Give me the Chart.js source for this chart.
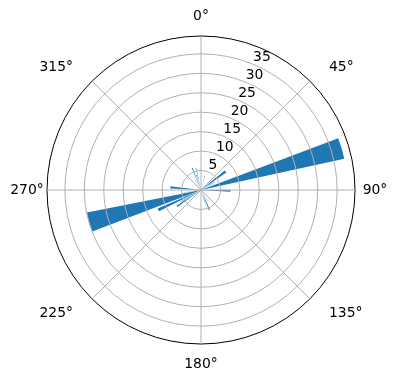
<!DOCTYPE html>
<html>
<head>
<meta charset="utf-8">
<script src="https://cdn.jsdelivr.net/npm/chart.js@4"></script>
<style>
  body { margin: 0; background: #fff; }
</style>
</head>
<body>
<canvas id="chart" width="396" height="380"></canvas>
<script>
const thetaLabels = ['0°', '45°', '90°', '135°', '180°', '225°', '270°', '315°'];
const radialTicks = [5, 10, 15, 20, 25, 30, 35];
const rMax = 39.6;

// bar centres (deg, clockwise from north), widths (deg) and heights
const barAngles = [15, 53, 59, 64, 73.5, 91.7, 150, 157, 163, 236, 240, 245, 254, 262, 275, 330, 338, 343, 347];
const barWidths = [1.5, 5, 1.2, 1.2, 8.4, 3.3, 1.2, 3, 1.2, 3, 1.2, 4, 9.7, 1.2, 4, 1.2, 2, 1.2, 1.5];
const barValues = [3.8, 7.9, 4.0, 3.5, 37.7, 7.6, 3.2, 5.6, 4.0, 7.5, 6.0, 12.1, 29.9, 4.5, 7.9, 3.0, 6.2, 4.0, 5.8];

// polarArea arcs are laid end to end, so put an empty arc in each gap
const segValues = [], segAngles = [];
let cursor = 0;
barAngles.forEach((a, i) => {
  const start = a - barWidths[i] / 2;
  segValues.push(0);
  segAngles.push(start - cursor);
  segValues.push(barValues[i]);
  segAngles.push(barWidths[i]);
  cursor = start + barWidths[i];
});

const polarText = {
  id: 'polarText',
  afterDraw(chart) {
    const r = chart.scales.r;
    const ctx = chart.ctx;
    ctx.save();
    ctx.fillStyle = '#000';
    ctx.font = '13.9px "DejaVu Sans"';
    ctx.textAlign = 'center';
    ctx.textBaseline = 'middle';
    thetaLabels.forEach((t, i) => {
      const a = i * 45 * Math.PI / 180;
      const d = r.drawingArea + 20;
      // diagonal labels are pushed sideways by about half their width
      const sx = i % 2 ? (ctx.measureText(t).width / 2 + 5) * Math.sign(Math.sin(a)) : 0;
      ctx.fillText(t, r.xCenter + d * Math.sin(a) + sx, r.yCenter - d * Math.cos(a));
    });
    // radius labels sit along 22.5°
    ctx.textAlign = 'left';
    ctx.textBaseline = 'bottom';
    const ra = 22.5 * Math.PI / 180;
    radialTicks.forEach(v => {
      const d = r.getDistanceFromCenterForValue(v);
      ctx.fillText(String(v), r.xCenter + d * Math.sin(ra), r.yCenter - d * Math.cos(ra));
    });
    ctx.restore();
  }
};

new Chart(document.getElementById('chart'), {
  type: 'polarArea',
  data: {
    labels: thetaLabels,
    datasets: [{
      data: segValues,
      angle: ctx => segAngles[ctx.dataIndex],
      backgroundColor: ctx => segValues[ctx.dataIndex] > 0 ? '#1f77b4' : 'rgba(0,0,0,0)',
      borderWidth: 0,
    }]
  },
  options: {
    responsive: false,
    animation: false,
    layout: { padding: { top: 36, bottom: 36, left: 47, right: 41 } },
    plugins: {
      legend: { display: false },
      tooltip: { enabled: false },
    },
    scales: {
      r: {
        min: 0,
        max: rMax,
        startAngle: 0,
        afterBuildTicks: scale => {
          scale.ticks = [0, ...radialTicks, rMax].map(v => ({ value: v }));
        },
        ticks: { display: false },
        pointLabels: { display: false },
        grid: {
          z: 1,
          circular: true,
          color: ctx => ctx.tick && ctx.tick.value === rMax ? '#000' : '#b0b0b0',
          lineWidth: 1,
        },
        angleLines: { display: true, color: '#b0b0b0', lineWidth: 1 },
      }
    }
  },
  plugins: [polarText]
});
</script>
</body>
</html>
